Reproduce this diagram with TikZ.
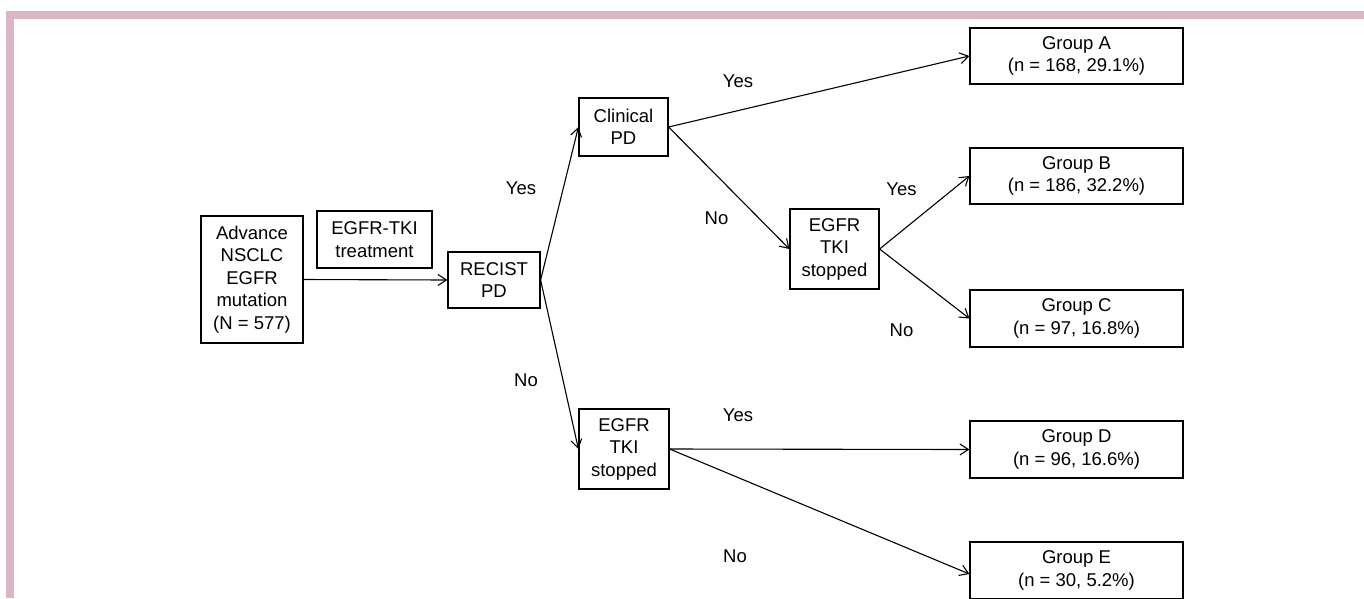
\documentclass[tikz,border=0pt]{standalone}
\usepackage{fontspec}
\setmainfont{Liberation Sans}
\usetikzlibrary{arrows.meta}
\newcommand\boxfont{\fontsize{18.5}{22.5}\selectfont}
\definecolor{frame}{RGB}{219,182,198}
\begin{document}
\begin{tikzpicture}[x=1pt,y=-1pt,
  box/.style={draw, line width=1.2pt, inner sep=0pt, align=center, font=\boxfont},
  lab/.style={inner sep=0pt, font=\boxfont},
  conn/.style={line width=1.1pt, -{Straight Barb[length=8.5pt,width=11pt,line width=1.1pt]}}]
\useasboundingbox (0,0) rectangle (1364,598);
\fill[white] (0,0) rectangle (1364,598);
\fill[frame] (6,11) rectangle (1364,19);
\fill[frame] (6,11) rectangle (14,598);

\node[box, minimum width=102pt, minimum height=127pt] (adv) at (252,279.5) {Advance\\NSCLC\\EGFR\\mutation\\(N = 577)};
\node[box, minimum width=115pt, minimum height=57pt] (trt) at (374.5,239.5) {EGFR-TKI\\treatment};
\node[box, minimum width=92pt, minimum height=56pt] (rec) at (494,280) {RECIST\\PD};
\node[box, minimum width=89pt, minimum height=58pt] (cli) at (623.5,127) {Clinical\\PD};
\node[box, minimum width=89pt, minimum height=80pt] (e1) at (834.5,249) {EGFR\\TKI\\stopped};
\node[box, minimum width=90pt, minimum height=80pt] (e2) at (624,449) {EGFR\\TKI\\stopped};
\node[box, minimum width=213pt, minimum height=56pt] (gA) at (1076.5,56) {Group A\\(n = 168, 29.1\%)};
\node[box, minimum width=213pt, minimum height=56pt] (gB) at (1076.5,176) {Group B\\(n = 186, 32.2\%)};
\node[box, minimum width=213pt, minimum height=57pt] (gC) at (1076.5,318.5) {Group C\\(n = 97, 16.8\%)};
\node[box, minimum width=213pt, minimum height=57pt] (gD) at (1076.5,449.5) {Group D\\(n = 96, 16.6\%)};
\node[box, minimum width=213pt, minimum height=57pt] (gE) at (1076.5,570.5) {Group E\\(n = 30, 5.2\%)};

\draw[conn] (adv.east) -- (rec.west);
\draw[conn] (rec.east) -- (cli.west);
\draw[conn] (rec.east) -- (e2.west);
\draw[conn] (cli.east) -- (gA.west);
\draw[conn] (cli.east) -- (e1.west);
\draw[conn] (e1.east) -- (gB.west);
\draw[conn] (e1.east) -- (gC.west);
\draw[conn] (e2.east) -- (gD.west);
\draw[conn] (e2.east) -- ([yshift=-3.5pt]gE.west);

\node[lab] (l1) at (521,188) {Yes};
\node[lab] (l2) at (526,380) {No};
\node[lab] (l3) at (738,81) {Yes};
\node[lab] (l4) at (716.5,218) {No};
\node[lab] (l5) at (901.5,189) {Yes};
\node[lab] (l6) at (901.5,330) {No};
\node[lab] (l7) at (738,415) {Yes};
\node[lab] (l8) at (735,556) {No};
\end{tikzpicture}
\end{document}
